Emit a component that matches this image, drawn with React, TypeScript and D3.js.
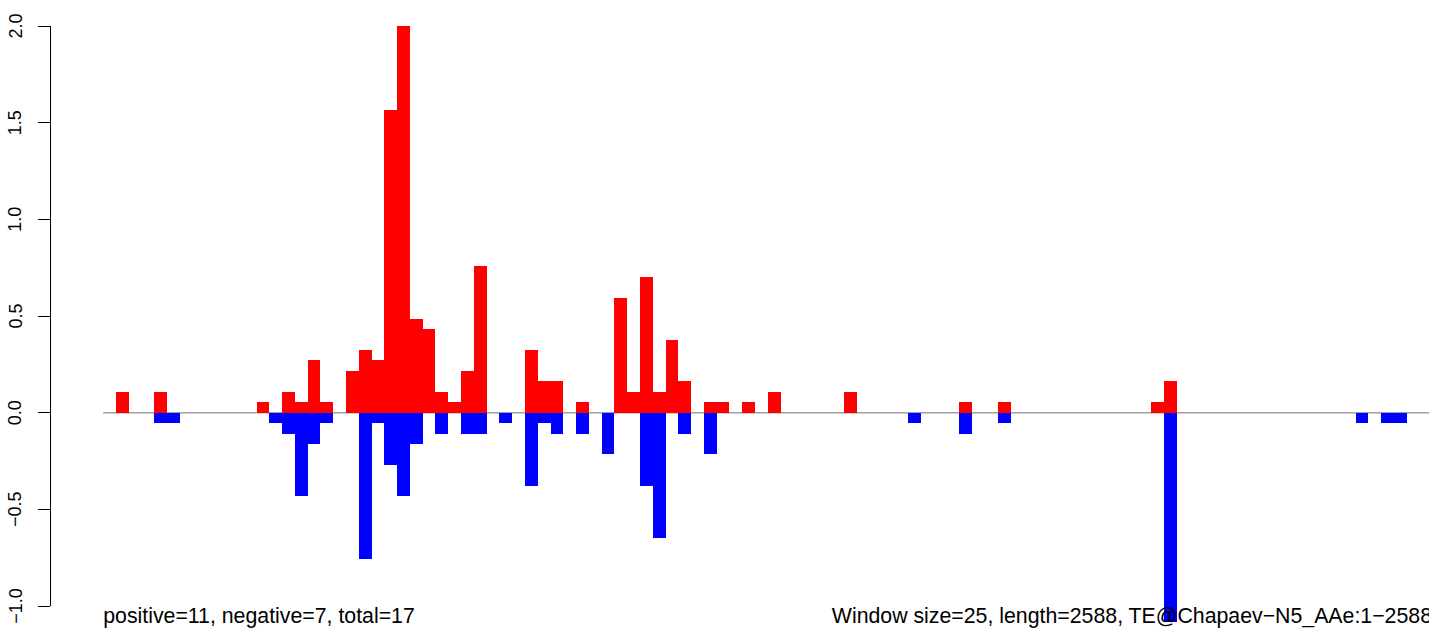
import React from "react";
import * as d3 from "d3";

// Window size and sequence length
const WINDOW_SIZE = 25;
const SEQ_LENGTH = 2588;

// Positive-strand windows (window index) and values
const posWindows = [1, 4, 12, 14, 15, 16, 17, 19, 20, 21, 22, 23, 24, 25, 26, 27, 28, 29, 33, 34, 35, 37, 40, 41, 42, 43, 44, 45, 47, 48, 50, 52, 58, 67, 70, 82, 83];
const posValues = [0.108, 0.108, 0.054, 0.108, 0.054, 0.27, 0.054, 0.216, 0.324, 0.27, 1.568, 2.0, 0.486, 0.432, 0.108, 0.054, 0.216, 0.757, 0.324, 0.162, 0.162, 0.054, 0.595, 0.108, 0.703, 0.108, 0.378, 0.162, 0.054, 0.054, 0.054, 0.108, 0.108, 0.054, 0.054, 0.054, 0.162];

// Negative-strand windows (window index) and magnitudes
const negWindows = [4, 5, 13, 14, 15, 16, 17, 20, 21, 22, 23, 24, 26, 28, 29, 31, 33, 34, 35, 37, 39, 42, 43, 45, 47, 63, 67, 70, 83, 98, 100, 101];
const negValues = [0.054, 0.054, 0.054, 0.108, 0.432, 0.162, 0.054, 0.757, 0.054, 0.27, 0.432, 0.162, 0.108, 0.108, 0.108, 0.054, 0.378, 0.054, 0.108, 0.108, 0.216, 0.378, 0.649, 0.108, 0.216, 0.054, 0.108, 0.054, 1.081, 0.054, 0.054, 0.054];

const yTicks = [-1, -0.5, 0, 0.5, 1, 1.5, 2];

const leftNote = "positive=11, negative=7, total=17";
const rightNote = "Window size=25, length=2588, TE@Chapaev\u2212N5_AAe:1\u22122588";

const W = 1429;
const H = 634;
const FONT = "'Liberation Sans', Arial, Helvetica, sans-serif";

const fmt = (v: number) => d3.format(".1f")(v).replace("-", "\u2212");

export default function App() {
  React.useEffect(() => {
    document.body.style.margin = "0";
  }, []);

  const x = d3.scaleLinear().domain([0, SEQ_LENGTH]).range([103.2, 103.2 + SEQ_LENGTH * 0.5112]);
  const y = d3.scaleLinear().domain([-1, 2]).range([606, 26]);
  const y0 = y(0);
  const axisX = 50;

  return (
    <svg width={W} height={H} style={{ position: "absolute", left: 0, top: 0, display: "block" }} fontFamily={FONT}>
      <rect x={0} y={0} width={W} height={H} fill="#fff" />
      {/* zero line */}
      <line x1={x(0)} x2={x(SEQ_LENGTH + 12)} y1={y0} y2={y0} stroke="#a0a0a0" strokeWidth={1.5} />
      {/* bars */}
      <g shapeRendering="crispEdges">
        {posWindows.map((w, i) => {
          const s = w * WINDOW_SIZE;
          return (
            <rect key={"p" + i} x={x(s)} width={x(s + WINDOW_SIZE) - x(s)} y={y(posValues[i])} height={y0 - y(posValues[i])} fill="#ff0000" />
          );
        })}
        {negWindows.map((w, i) => {
          const s = w * WINDOW_SIZE;
          return (
            <rect key={"n" + i} x={x(s)} width={x(s + WINDOW_SIZE) - x(s)} y={y0} height={y(-negValues[i]) - y0} fill="#0000ff" />
          );
        })}
      </g>
      {/* y axis */}
      <g shapeRendering="crispEdges">
        <line x1={axisX} x2={axisX} y1={y(yTicks[0])} y2={y(yTicks[yTicks.length - 1])} stroke="#000" strokeWidth={1} />
        {yTicks.map((t) => (
          <line key={"t" + t} x1={axisX - 12} x2={axisX} y1={y(t)} y2={y(t)} stroke="#000" strokeWidth={1} />
        ))}
      </g>
      {yTicks.map((t) => (
        <text key={"l" + t} x={21.5} y={y(t)} transform={`rotate(-90, 21.5, ${y(t)})`} textAnchor="middle" fontSize={18} fill="#000">
          {fmt(t)}
        </text>
      ))}
      {/* annotations */}
      <text x={x(0)} y={623} fontSize={21.3} fill="#000" textAnchor="start">
        {leftNote}
      </text>
      <text x={1432} y={623} fontSize={21.3} fill="#000" textAnchor="end">
        {rightNote}
      </text>
    </svg>
  );
}
